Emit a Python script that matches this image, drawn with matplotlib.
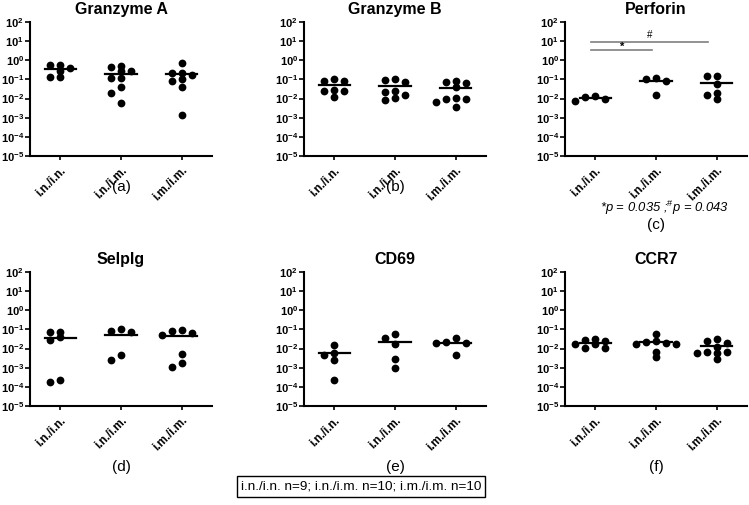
import numpy as np
import matplotlib
matplotlib.use('Agg')
import matplotlib.pyplot as plt
from matplotlib.ticker import LogLocator, NullFormatter, FixedLocator
from matplotlib.transforms import ScaledTranslation

plt.rcParams['font.family'] = ['Liberation Sans', 'DejaVu Sans']
plt.rcParams['mathtext.fontset'] = 'custom'
plt.rcParams['mathtext.rm'] = 'Liberation Sans'
plt.rcParams['mathtext.bf'] = 'Liberation Sans:bold'
plt.rcParams['mathtext.it'] = 'Liberation Sans:italic'

# ---------------- data ----------------
groups = ["i.n./i.n.", "i.n./i.m.", "i.m./i.m."]
titles = ["Granzyme A", "Granzyme B", "Perforin", "Selplg", "CD69", "CCR7"]
panel_letters = ["(a)", "(b)", "(c)", "(d)", "(e)", "(f)"]

ga_inin = [0.57, 0.57, 0.38, 0.29, 0.14, 0.14]
ga_inim = [0.52, 0.47, 0.28, 0.26, 0.115, 0.115, 0.038, 0.020, 0.0058]
ga_imim = [0.70, 0.21, 0.21, 0.17, 0.10, 0.085, 0.038, 0.00135]

gb_inin = [0.10, 0.087, 0.087, 0.028, 0.026, 0.026, 0.0126]
gb_inim = [0.10, 0.091, 0.077, 0.026, 0.022, 0.016, 0.011, 0.0083]
gb_imim = [0.087, 0.072, 0.069, 0.038, 0.0103, 0.010, 0.0095, 0.0066, 0.0036]

pf_inin = [0.014, 0.0126, 0.0098, 0.0074]
pf_inim = [0.117, 0.10, 0.083, 0.015]
pf_imim = [0.16, 0.15, 0.055, 0.020, 0.015, 0.010]

sp_inin = [0.074, 0.074, 0.038, 0.029, 0.000225, 0.000186]
sp_inim = [0.10, 0.087, 0.072, 0.0045, 0.0026]
sp_imim = [0.095, 0.085, 0.063, 0.050, 0.0052, 0.0017, 0.00107]

cd_inin = [0.0145, 0.0057, 0.0049, 0.0025, 0.00023]
cd_inim = [0.059, 0.034, 0.0165, 0.0028, 0.001]
cd_imim = [0.036, 0.022, 0.019, 0.019, 0.0044]

cc_inin = [0.033, 0.027, 0.024, 0.017, 0.017, 0.011, 0.011]
cc_inim = [0.060, 0.024, 0.022, 0.020, 0.018, 0.017, 0.0068, 0.0035]
cc_imim = [0.030, 0.025, 0.020, 0.0124, 0.0068, 0.0068, 0.0060, 0.0056, 0.0029]

panel_data = [
    [ga_inin, ga_inim, ga_imim],
    [gb_inin, gb_inim, gb_imim],
    [pf_inin, pf_inim, pf_imim],
    [sp_inin, sp_inim, sp_imim],
    [cd_inin, cd_inim, cd_imim],
    [cc_inin, cc_inim, cc_imim],
]

ytick_vals = [1e-5, 1e-4, 1e-3, 1e-2, 1e-1, 1e0, 1e1, 1e2]
ytick_labels = [r'$\mathbf{10^{-5}}$', r'$\mathbf{10^{-4}}$', r'$\mathbf{10^{-3}}$',
                r'$\mathbf{10^{-2}}$', r'$\mathbf{10^{-1}}$', r'$\mathbf{10^{0}}$',
                r'$\mathbf{10^{1}}$', r'$\mathbf{10^{2}}$']

p_text = r'*p = 0.035 ;$^{\#}$p = 0.043'
n_text = "i.n./i.n. n=9; i.n./i.m. n=10; i.m./i.m. n=10"

# ---------------- layout ----------------
W, H = 749, 505
fig = plt.figure(figsize=(W / 100, H / 100), dpi=100)
fig.patch.set_facecolor('white')

col_left = [30, 304, 565]
row_top = [22, 272]
ax_w, ax_h = 182, 134


def swarm(ax, xc, vals, step_px=10.0, dmin=5.5):
    vals = np.asarray(vals, dtype=float)
    order = np.argsort(vals)[::-1]
    placed = []
    offs = np.zeros(len(vals))
    cands = [0]
    for j in range(1, 10):
        cands += [-j, j]
    for i in order:
        py = ax.transData.transform((xc, vals[i]))[1]
        px = 0.0
        for c in cands:
            px = c * step_px
            if all((px - qx) ** 2 + (py - qy) ** 2 >= dmin ** 2 for qx, qy in placed):
                break
        placed.append((px, py))
        offs[i] = px
    x0 = ax.transData.transform((0, 1))[0]
    x1 = ax.transData.transform((1, 1))[0]
    return xc + offs / (x1 - x0)


axes = []
for k in range(6):
    r, c = divmod(k, 3)
    l = col_left[c]
    t = row_top[r]
    ax = fig.add_axes([l / W, 1 - (t + ax_h) / H, ax_w / W, ax_h / H])
    axes.append(ax)
    ax.set_yscale('log')
    ax.set_ylim(1e-5, 1e2)
    ax.set_xlim(-0.5, 2.5)
    for s in ['top', 'right']:
        ax.spines[s].set_visible(False)
    for s in ['left', 'bottom']:
        ax.spines[s].set_linewidth(1.5)
    ax.yaxis.set_major_locator(FixedLocator(ytick_vals))
    ax.set_yticklabels(ytick_labels, fontsize=8.0)
    ax.yaxis.set_minor_locator(LogLocator(base=10, subs=np.arange(2, 10)))
    ax.yaxis.set_minor_formatter(NullFormatter())
    ax.tick_params(axis='y', which='major', length=3.5, width=1.2, pad=0.8)
    ax.tick_params(axis='y', which='minor', length=2, width=0.8)
    ax.set_xticks(range(3))
    ax.set_xticklabels(groups, rotation=45, ha='right', rotation_mode='anchor',
                       fontsize=8.3, fontweight='bold')
    for lab in ax.get_xticklabels():
        lab.set_transform(lab.get_transform() + ScaledTranslation(3 / 100, 0, fig.dpi_scale_trans))
    ax.tick_params(axis='x', length=3, width=1.2, pad=3)
    ax.set_title(titles[k], fontsize=11.5, fontweight='bold', pad=6)

    for g, vals in enumerate(panel_data[k]):
        xs = swarm(ax, g, vals)
        ax.plot(xs, vals, 'o', color='black', markersize=5.6, zorder=3,
                markeredgewidth=0)
        m = np.mean(vals)
        ax.plot([g - 0.26, g + 0.26], [m, m], color='black', lw=1.6, zorder=4)

    cx = (l + ax_w / 2) / W
    ly = 187 if r == 0 else 467
    if k == 2:
        ly = 225
    fig.text(cx, 1 - ly / H, panel_letters[k], ha='center', va='center', fontsize=11)

# significance annotations on Perforin
axp = axes[2]
axp.plot([-0.07, 0.93], [3.3, 3.3], color='#7f7f7f', lw=1.2)
axp.plot([-0.07, 1.86], [9.0, 9.0], color='#7f7f7f', lw=1.2)
axp.text(0.45, 5.0, '*', ha='center', va='center', fontsize=8, fontweight='bold')
axp.text(0.89, 20, '#', ha='center', va='center', fontsize=7)

fig.text(664 / W, 1 - 208 / H, p_text, ha='center', va='center', fontsize=9.4,
         fontstyle='italic')

fig.text(361 / W, 1 - 486.5 / H, n_text, ha='center', va='center', fontsize=9.7,
         bbox=dict(boxstyle='square,pad=0.3', fc='white', ec='black', lw=1))

fig.savefig('out.png', dpi=100, facecolor='white')
